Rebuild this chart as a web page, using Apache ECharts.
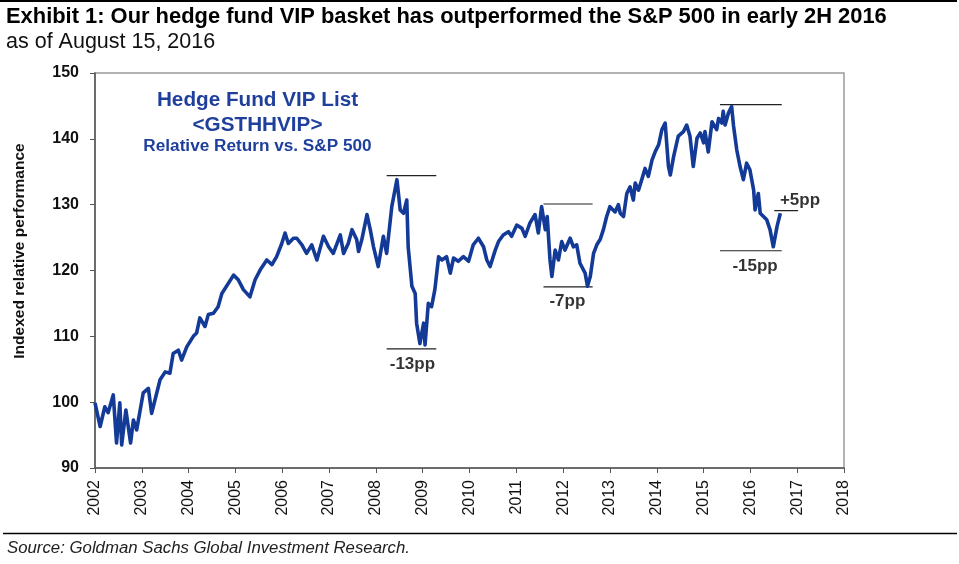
<!DOCTYPE html>
<html>
<head>
<meta charset="utf-8">
<script src="https://cdn.jsdelivr.net/npm/echarts@6/dist/echarts.min.js"></script>
<style>
html,body{margin:0;padding:0;background:#fff;}
#c{width:959px;height:564px;}
</style>
</head>
<body>
<div id="c"></div>
<script>
// Decimal year of each observation
var years = [
2002.00,2002.11,2002.21,2002.28,2002.39,2002.46,2002.53,2002.57,2002.66,2002.76,2002.82,2002.89,
2003.03,2003.14,2003.21,2003.28,2003.39,2003.50,2003.60,2003.67,2003.78,2003.85,2003.96,
2004.10,2004.17,2004.24,2004.35,2004.42,2004.53,2004.63,2004.71,2004.96,
2005.06,2005.17,2005.31,2005.42,2005.53,2005.67,2005.78,2005.88,2005.99,
2006.06,2006.13,2006.24,2006.31,2006.42,2006.52,2006.63,2006.74,2006.88,2006.99,
2007.09,2007.24,2007.31,2007.41,2007.49,2007.59,2007.63,2007.70,2007.81,2007.88,2007.95,
2008.05,2008.16,2008.23,2008.34,2008.45,2008.52,2008.59,2008.66,2008.69,2008.77,2008.84,2008.87,2008.94,
2009.02,2009.05,2009.12,2009.19,2009.26,2009.34,2009.41,2009.51,2009.59,2009.66,2009.76,2009.87,2009.98,
2010.08,2010.19,2010.30,2010.37,2010.44,2010.55,2010.62,2010.72,2010.83,2010.90,
2011.01,2011.12,2011.19,2011.29,2011.40,2011.47,2011.54,2011.62,2011.66,2011.72,2011.76,2011.83,2011.90,2011.97,
2012.04,2012.15,2012.22,2012.29,2012.36,2012.47,2012.52,2012.58,2012.65,2012.72,2012.79,2012.86,2012.93,
2013.00,2013.11,2013.18,2013.22,2013.29,2013.36,2013.43,2013.50,2013.54,2013.61,2013.68,2013.75,2013.82,2013.90,2013.97,
2014.04,2014.11,2014.18,2014.25,2014.29,2014.36,2014.46,2014.57,2014.64,2014.71,2014.78,2014.86,2014.93,
2015.00,2015.03,2015.10,2015.18,2015.28,2015.32,2015.39,2015.42,2015.46,2015.53,2015.60,2015.64,2015.71,2015.78,2015.85,2015.92,2015.99,
2016.07,2016.10,2016.17,2016.21,2016.28,2016.35,2016.42,2016.49,2016.57,2016.64
];
// Indexed relative performance at each observation
var values = [
99.9,96.3,99.3,98.4,101.1,93.8,99.9,93.5,98.8,93.8,97.3,95.8,
101.4,102.1,98.3,100.3,103.4,104.6,104.4,107.4,107.9,106.4,108.4,
110.0,110.5,112.8,111.5,113.3,113.5,114.5,116.5,119.3,
118.6,117.1,116.0,118.6,120.1,121.6,120.9,122.1,124.1,
125.7,124.1,124.9,124.9,123.9,122.6,123.9,121.6,125.2,123.6,
122.6,125.4,122.6,124.1,126.2,124.7,122.9,124.7,128.5,126.2,123.6,
120.6,125.2,122.6,129.7,133.8,129.2,128.7,130.7,123.6,117.6,116.5,112.0,108.9,
112.0,108.7,115.0,114.5,117.1,122.1,121.6,122.1,119.6,121.9,121.4,122.1,121.4,
123.9,124.9,123.6,121.6,120.6,123.1,124.4,125.4,125.9,125.2,
126.9,126.4,125.2,127.2,128.5,125.7,129.7,126.2,128.2,121.6,119.1,123.1,121.6,124.4,
123.1,124.9,123.6,123.9,121.1,119.6,117.6,119.1,122.6,123.9,124.7,126.2,128.2,
129.7,128.9,130.0,128.7,128.2,131.7,132.7,130.7,133.3,132.2,133.8,135.5,134.3,136.8,138.1,
139.1,141.4,142.4,135.8,134.5,137.3,140.4,141.1,142.1,140.4,135.8,140.1,140.9,
139.4,141.1,138.0,142.6,141.4,143.1,142.4,144.2,142.1,143.9,144.9,142.0,138.3,135.8,133.8,136.3,135.3,
132.2,129.2,131.7,128.7,128.2,127.7,126.2,123.6,126.7,128.7
];
// Peak / trough reference segments
var segStart = [2008.23, 2008.23, 2011.58, 2011.58, 2015.35, 2015.35, 2016.51];
var segEnd   = [2009.29, 2009.29, 2012.63, 2012.63, 2016.67, 2016.67, 2017.02];
var segLevel = [134.4, 108.1, 130.1, 117.5, 145.2, 123.0, 129.1];
// Annotation texts and their anchor points
var noteText = ['-13pp', '-7pp', '-15pp', '+5pp'];
var noteX = [2008.78, 2012.09, 2016.10, 2017.06];
var noteY = [105.8, 115.3, 120.7, 130.7];
// Axis ticks
var yearTicks = [2002,2003,2004,2005,2006,2007,2008,2009,2010,2011,2012,2013,2014,2015,2016,2017,2018];
var yTicks = [90,100,110,120,130,140,150];

var FONT = 'Liberation Sans, Arial, sans-serif';
var lineData = years.map(function(y, i){ return [y, values[i]]; });

var series = [{
  type: 'line',
  data: lineData,
  showSymbol: false,
  symbol: 'none',
  lineStyle: { color: '#133a97', width: 3.6, join: 'round' },
  z: 3,
  animation: false
}];
for (var i = 0; i < segStart.length; i++) {
  series.push({
    type: 'line',
    data: [[segStart[i], segLevel[i]], [segEnd[i], segLevel[i]]],
    symbol: 'none',
    lineStyle: { color: '#222', width: 1.2 },
    z: 2,
    animation: false
  });
}
series.push({
  type: 'scatter',
  data: noteX.map(function(x, i){ return { value: [x, noteY[i]], name: noteText[i] }; }),
  symbolSize: 0,
  label: {
    show: true,
    position: 'inside',
    formatter: function(p){ return p.name; },
    color: '#000',
    fontFamily: FONT,
    fontWeight: 'bold',
    fontSize: 17
  },
  animation: false
});

function txt(s, x, y, size, opts) {
  opts = opts || {};
  return {
    type: 'text', x: x, y: y, rotation: opts.rotation || 0, z: 10,
    style: {
      text: s, fontSize: size, fontFamily: FONT,
      fontWeight: opts.bold ? 'bold' : 'normal',
      fontStyle: opts.italic ? 'italic' : 'normal',
      fill: opts.color || '#000',
      textAlign: opts.align || 'left',
      textVerticalAlign: 'middle'
    }
  };
}

var chart = echarts.init(document.getElementById('c'), null, { renderer: 'canvas' });
chart.setOption({
  animation: false,
  backgroundColor: '#fff',
  textStyle: { fontFamily: FONT },
  graphic: [
    { type: 'line', shape: { x1: 0, y1: 1, x2: 957, y2: 1 }, style: { stroke: '#000', lineWidth: 2 } },
    { type: 'line', shape: { x1: 3, y1: 533.5, x2: 957, y2: 533.5 }, style: { stroke: '#000', lineWidth: 1.5 } },
    txt('Exhibit 1: Our hedge fund VIP basket has outperformed the S&P 500 in early 2H 2016', 6, 16.5, 21.9, { bold: true }),
    txt('as of August 15, 2016', 6, 42, 21.5, { color: '#111' }),
    txt('Source: Goldman Sachs Global Investment Research.', 7, 548, 16.8, { italic: true, color: '#222' }),
    txt('Hedge Fund VIP List', 257.5, 100, 20.7, { bold: true, color: '#1f3f9c', align: 'center' }),
    txt('<GSTHHVIP>', 257.5, 125, 20.7, { bold: true, color: '#1f3f9c', align: 'center' }),
    txt('Relative Return vs. S&P 500', 257.5, 146.5, 17.2, { bold: true, color: '#1f3f9c', align: 'center' }),
    txt('Indexed relative performance', 20, 251, 15.5, { bold: true, color: '#111', align: 'center', rotation: Math.PI / 2 })
  ],
  grid: {
    left: 95, right: 115, top: 73, bottom: 96,
    show: true, borderColor: '#999', borderWidth: 1.5, backgroundColor: 'transparent'
  },
  xAxis: {
    type: 'value', min: 2002, max: 2018, interval: 1,
    axisLine: { show: true, onZero: false, lineStyle: { color: '#555', width: 1.5 } },
    axisTick: { show: true, length: 5, inside: false, lineStyle: { color: '#555' } },
    splitLine: { show: false },
    axisLabel: { rotate: 90, margin: 12, fontSize: 16, color: '#111',
      formatter: function(v){ return String(v); } }
  },
  yAxis: {
    type: 'value', min: 90, max: 150, interval: 10,
    axisLine: { show: true, lineStyle: { color: '#555', width: 1.5 } },
    axisTick: { show: true, length: 5, lineStyle: { color: '#555' } },
    splitLine: { show: false },
    axisLabel: { margin: 16, fontSize: 16, fontWeight: 'bold', color: '#111' }
  },
  series: series
});
</script>
</body>
</html>
